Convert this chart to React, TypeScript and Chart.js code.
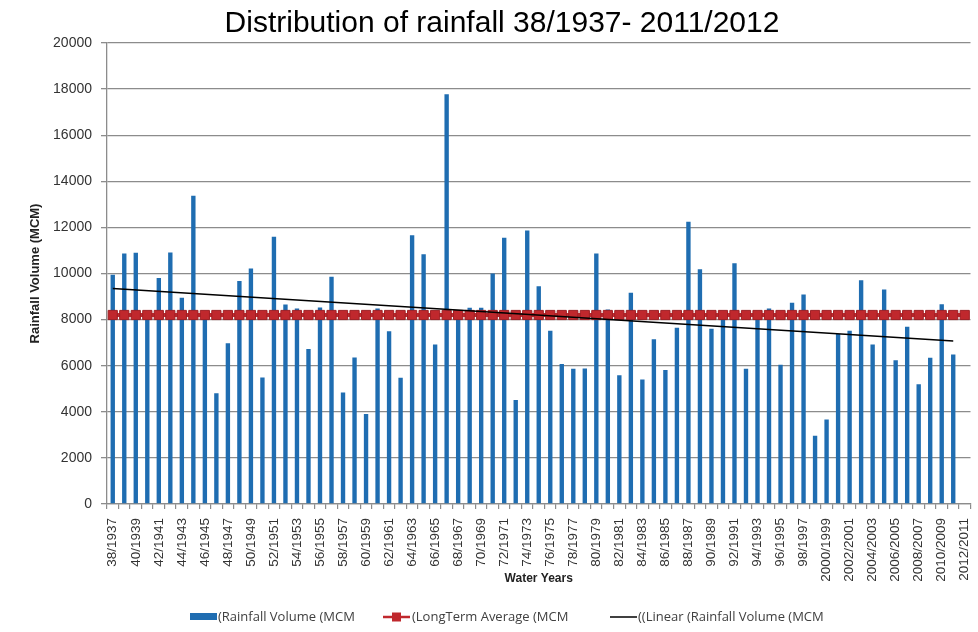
import { useEffect, useRef } from "react";
import { Chart, registerables } from "chart.js";

Chart.register(...registerables);

// Water years, oldest first
const waterYears = [
  "38/1937", "39/1938", "40/1939", "41/1940", "42/1941", "43/1942", "44/1943", "45/1944",
  "46/1945", "47/1946", "48/1947", "49/1948", "50/1949", "51/1950", "52/1951", "53/1952",
  "54/1953", "55/1954", "56/1955", "57/1956", "58/1957", "59/1958", "60/1959", "61/1960",
  "62/1961", "63/1962", "64/1963", "65/1964", "66/1965", "67/1966", "68/1967", "69/1968",
  "70/1969", "71/1970", "72/1971", "73/1972", "74/1973", "75/1974", "76/1975", "77/1976",
  "78/1977", "79/1978", "80/1979", "81/1980", "82/1981", "83/1982", "84/1983", "85/1984",
  "86/1985", "87/1986", "88/1987", "89/1988", "90/1989", "91/1990", "92/1991", "93/1992",
  "94/1993", "95/1994", "96/1995", "97/1996", "98/1997", "99/1998", "2000/1999", "2001/2000",
  "2002/2001", "2003/2002", "2004/2003", "2005/2004", "2006/2005", "2007/2006", "2008/2007",
  "2009/2008", "2010/2009", "2011/2010", "2012/2011",
];

// Annual rainfall volume (MCM); the last water year has no record
const rainfallVolume: (number | null)[] = [
  9950, 10870, 10900, 8100, 9800, 10910, 8950, 13370, 8100, 4800,
  6970, 9670, 10220, 5490, 11590, 8660, 8480, 6720, 8530, 9860,
  4840, 6360, 3900, 8480, 7500, 5480, 11660, 10830, 6920, 17780,
  8150, 8510, 8510, 10000, 11550, 4510, 11870, 9450, 7520, 6070,
  5870, 5880, 10870, 8440, 5590, 9160, 5400, 7150, 5810, 7650,
  12240, 10180, 7600, 8100, 10440, 5870, 8000, 8480, 6040, 8730,
  9090, 2960, 3670, 7370, 7520, 9710, 6920, 9310, 6240, 7690,
  5190, 6340, 8670, 6490, null,
];

// Long-term average rainfall volume (MCM)
const longTermAverage = 8200;

// Linear trend of the rainfall volume: value at first and last recorded year
const trendEnds = [9350, 7070];
const trendLastIndex = 73;

const yAxisTicks = { min: 0, max: 20000, step: 2000 };

const seriesLabels = [
  "(Rainfall Volume (MCM",
  "(LongTerm Average (MCM",
  "((Linear (Rainfall Volume (MCM",
];

const chartTitle = "Distribution of rainfall 38/1937- 2011/2012";

const BAR_BLUE = "#1f6db1";
const AVG_RED = "#c0282d";
const AVG_RED_DARK = "#9e1f24";
const GRID = "#8c8c8c";
const SANS = "'Liberation Sans', Arial, sans-serif";
const LEGEND_FONT = "13px 'Open Sans', sans-serif";

const titlePlugin = {
  id: "chartHeading",
  afterDraw(chart: Chart) {
    const { ctx } = chart;
    ctx.save();
    ctx.font = `30px ${SANS}`;
    ctx.fillStyle = "#000";
    ctx.textAlign = "center";
    ctx.textBaseline = "alphabetic";
    ctx.fillText(chartTitle, 502, 32);
    ctx.restore();
  },
};

const legendPlugin = {
  id: "bottomLegend",
  afterDraw(chart: Chart) {
    const { ctx } = chart;
    const y = 617;
    ctx.save();
    ctx.font = LEGEND_FONT;
    ctx.fillStyle = "#404040";
    ctx.textAlign = "left";
    ctx.textBaseline = "middle";

    // bar swatch
    ctx.fillStyle = BAR_BLUE;
    ctx.fillRect(190, y - 4, 27, 7);
    ctx.fillStyle = "#404040";
    ctx.fillText(seriesLabels[0], 218, y);

    // average line with square marker
    ctx.strokeStyle = AVG_RED;
    ctx.lineWidth = 2.5;
    ctx.beginPath();
    ctx.moveTo(383, y);
    ctx.lineTo(410, y);
    ctx.stroke();
    ctx.fillStyle = AVG_RED;
    ctx.fillRect(392, y - 4.5, 9, 9);
    ctx.fillStyle = "#404040";
    ctx.fillText(seriesLabels[1], 412, y);

    // trend line
    ctx.strokeStyle = "#000";
    ctx.lineWidth = 1.5;
    ctx.beginPath();
    ctx.moveTo(610, y);
    ctx.lineTo(637, y);
    ctx.stroke();
    ctx.fillText(seriesLabels[2], 638, y);
    ctx.restore();
  },
};

export default function App() {
  const canvasRef = useRef<HTMLCanvasElement>(null);

  useEffect(() => {
    const canvas = canvasRef.current;
    if (!canvas) return;

    const averageSeries = waterYears.map(() => longTermAverage);
    const trendSeries = waterYears.map((_, i) =>
      i === 0 ? trendEnds[0] : i === trendLastIndex ? trendEnds[1] : null
    );

    const chart = new Chart(canvas, {
      type: "bar",
      data: {
        labels: waterYears,
        datasets: [
          {
            type: "bar",
            label: seriesLabels[0],
            data: rainfallVolume,
            backgroundColor: BAR_BLUE,
            borderWidth: 0,
            barPercentage: 0.38,
            categoryPercentage: 1,
            order: 3,
          },
          {
            type: "line",
            label: seriesLabels[1],
            data: averageSeries,
            borderColor: AVG_RED,
            borderWidth: 4,
            pointStyle: "rect",
            pointRadius: 6.5,
            pointBackgroundColor: AVG_RED,
            pointBorderColor: AVG_RED_DARK,
            pointBorderWidth: 1,
            fill: false,
            order: 2,
          },
          {
            type: "line",
            label: seriesLabels[2],
            data: trendSeries,
            borderColor: "#000",
            borderWidth: 1.5,
            pointRadius: 0,
            spanGaps: true,
            fill: false,
            order: 1,
          },
        ],
      } as any,
      options: {
        animation: false,
        responsive: true,
        maintainAspectRatio: false,
        layout: { padding: { top: 43, right: 1, bottom: 0, left: 0 } },
        plugins: {
          legend: { display: false },
          title: { display: false },
          tooltip: { enabled: false },
        },
        scales: {
          x: {
            type: "category",
            offset: true,
            ticks: {
              autoSkip: false,
              minRotation: 90,
              maxRotation: 90,
              padding: 9,
              color: "#333",
              font: { family: SANS, size: 13.5 },
              callback: (_v: any, index: number) =>
                index % 2 === 0 ? waterYears[index] : "",
            },
            grid: {
              offset: true,
              drawOnChartArea: false,
              drawTicks: true,
              tickLength: 5,
              color: GRID,
              lineWidth: 1.2,
            },
            border: { color: GRID, width: 1.3 },
            title: {
              display: true,
              text: "Water Years",
              color: "#222",
              font: { family: SANS, size: 12, weight: "bold" },
              padding: { top: 0, bottom: 46 },
            },
            afterFit: (scale: any) => {
              scale.height = 128;
              scale.paddingLeft = 0;
              scale.paddingRight = 0;
            },
          },
          y: {
            min: yAxisTicks.min,
            max: yAxisTicks.max,
            ticks: {
              stepSize: yAxisTicks.step,
              padding: 9,
              color: "#333",
              font: { family: SANS, size: 14 },
              callback: (v: any) => String(v),
            },
            grid: { color: GRID, lineWidth: 1.3, tickLength: 6 },
            border: { color: GRID, width: 1.3 },
            title: {
              display: true,
              text: "Rainfall Volume (MCM)",
              color: "#222",
              font: { family: SANS, size: 13, weight: "bold" },
              padding: { top: 28, bottom: 0 },
            },
            afterFit: (scale: any) => {
              scale.width = 107;
              scale.paddingTop = 0;
              scale.paddingBottom = 0;
            },
          },
        },
      } as any,
      plugins: [titlePlugin, legendPlugin],
    });

    return () => chart.destroy();
  }, []);

  return (
    <div
      style={{
        position: "fixed",
        left: 0,
        top: 0,
        width: 978,
        height: 632,
        background: "#fff",
      }}
    >
      <canvas ref={canvasRef} />
    </div>
  );
}
